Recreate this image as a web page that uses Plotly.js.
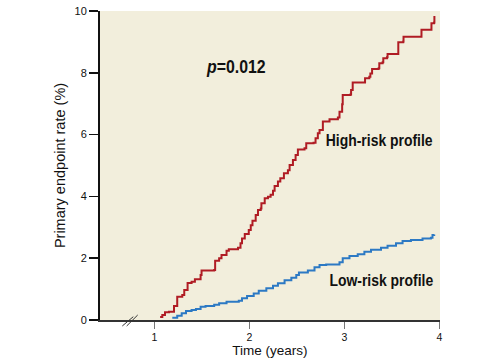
<!DOCTYPE html>
<html><head><meta charset="utf-8">
<script src="https://cdn.plot.ly/plotly-3.0.1.min.js"></script>
<style>html,body{margin:0;padding:0;background:#fff}#chart{width:502px;height:360px}</style>
</head><body><div id="chart"></div>
<script>
// High-risk profile (step curve)
const highX = [1.061,1.084,1.112,1.154,1.207,1.207,1.241,1.294,1.315,1.350,1.392,1.427,1.487,1.497,1.630,1.640,1.682,1.707,1.760,1.784,1.881,1.907,1.923,1.952,1.994,2.015,2.033,2.067,2.091,2.120,2.127,2.162,2.196,2.224,2.249,2.266,2.301,2.326,2.364,2.406,2.424,2.459,2.487,2.511,2.581,2.599,2.676,2.697,2.721,2.739,2.774,2.844,2.932,2.949,2.977,2.983,3.064,3.071,3.088,3.203,3.218,3.263,3.274,3.292,3.361,3.368,3.403,3.410,3.449,3.455,3.560,3.568,3.620,3.623,3.806,3.812,3.911,3.917,3.945,3.948];
const highY = [0.10,0.16,0.25,0.27,0.32,0.45,0.75,0.81,0.97,1.20,1.24,1.32,1.46,1.60,1.62,1.92,2.00,2.10,2.24,2.29,2.34,2.48,2.64,2.78,2.91,3.07,3.21,3.40,3.56,3.61,3.78,3.94,3.99,4.05,4.18,4.34,4.48,4.59,4.75,4.85,5.02,5.18,5.34,5.52,5.56,5.72,5.74,5.88,6.04,6.15,6.42,6.50,6.55,6.74,6.98,7.28,7.30,7.44,7.69,7.69,7.82,7.87,7.98,8.12,8.15,8.31,8.34,8.47,8.50,8.61,8.61,8.99,9.01,9.17,9.17,9.39,9.39,9.60,9.63,9.84];
// Low-risk profile (step curve)
const lowX = [1.189,1.241,1.288,1.333,1.392,1.438,1.487,1.539,1.630,1.682,1.760,1.889,1.923,1.976,2.046,2.099,2.179,2.249,2.301,2.371,2.442,2.494,2.522,2.616,2.686,2.739,2.809,2.949,2.983,3.054,3.141,3.211,3.281,3.386,3.455,3.544,3.613,3.701,3.823,3.911,3.928,3.946];
const lowY = [0.07,0.14,0.22,0.29,0.32,0.36,0.43,0.45,0.49,0.54,0.59,0.62,0.70,0.78,0.86,0.95,1.03,1.11,1.19,1.29,1.37,1.46,1.54,1.60,1.71,1.78,1.80,1.87,2.00,2.07,2.13,2.21,2.27,2.34,2.40,2.48,2.56,2.59,2.64,2.66,2.75,2.77];
const xTicks = [1,2,3,4];
const yTicks = [0,2,4,6,8,10];

const sans = '"Liberation Sans", Arial, sans-serif';
const data = [
  {x: highX, y: highY, mode: 'lines', line: {shape: 'hv', color: '#b01c24', width: 2}, hoverinfo: 'skip'},
  {x: lowX, y: lowY, mode: 'lines', line: {shape: 'hv', color: '#2c79c4', width: 2}, hoverinfo: 'skip'}
];
const layout = {
  width: 502, height: 360,
  margin: {l: 100, r: 62, t: 11, b: 40},
  paper_bgcolor: '#ffffff', plot_bgcolor: '#f2eedc',
  showlegend: false,
  xaxis: {
    range: [0.428, 4.007], tickvals: xTicks, ticktext: xTicks.map(String),
    showgrid: false, zeroline: false, showline: true, linecolor: '#333', linewidth: 1.5,
    ticks: 'outside', ticklen: 7, tickcolor: '#777', tickwidth: 1.5,
    tickfont: {family: sans, size: 10.5, color: '#111'},
    title: {text: 'Time (years)', font: {family: sans, size: 13.5, color: '#111'}, standoff: 2}
  },
  yaxis: {
    range: [0, 10], tickvals: yTicks, ticktext: yTicks.map(String),
    showgrid: false, zeroline: false, showline: true, linecolor: '#111', linewidth: 2,
    ticks: 'outside', ticklen: 9, tickcolor: '#111', tickwidth: 1.5,
    tickfont: {family: sans, size: 11, color: '#111'},
    title: {text: 'Primary endpoint rate (%)', font: {family: sans, size: 14.5, color: '#111'}, standoff: 5}
  },
  annotations: [
    {x: 1.86, y: 8.18, xref: 'x', yref: 'y', text: '<b><i>p</i>=0.012</b>', showarrow: false,
     font: {family: sans, size: 18, color: '#111'}},
    {x: 3.37, y: 5.82, xref: 'x', yref: 'y', text: '<b>High-risk profile</b>', showarrow: false,
     font: {family: sans, size: 17, color: '#111'}},
    {x: 3.395, y: 1.29, xref: 'x', yref: 'y', text: '<b>Low-risk profile</b>', showarrow: false,
     font: {family: sans, size: 17, color: '#111'}}
  ],
  shapes: [
    {type: 'line', xref: 'paper', yref: 'paper', x0: 0.0656, y0: -0.0194, x1: 0.0979, y1: 0.0107, line: {color: '#333', width: 1}},
    {type: 'line', xref: 'paper', yref: 'paper', x0: 0.0785, y0: -0.0194, x1: 0.1109, y1: 0.0162, line: {color: '#333', width: 1}}
  ]
};
// horizontal compression of the condensed bold labels (reference uses a condensed face)
const condense = [0.88, 0.82, 0.82];
Plotly.newPlot('chart', data, layout, {staticPlot: true, displayModeBar: false}).then(function () {
  document.querySelectorAll('#chart g.annotation').forEach(function (g) {
    const i = +g.getAttribute('data-index');
    const t = g.querySelector('text.annotation-text');
    if (!t) return;
    const w = t.getComputedTextLength();
    t.setAttribute('lengthAdjust', 'spacingAndGlyphs');
    t.setAttribute('textLength', (w * condense[i]).toFixed(1));
  });
});
</script></body></html>
